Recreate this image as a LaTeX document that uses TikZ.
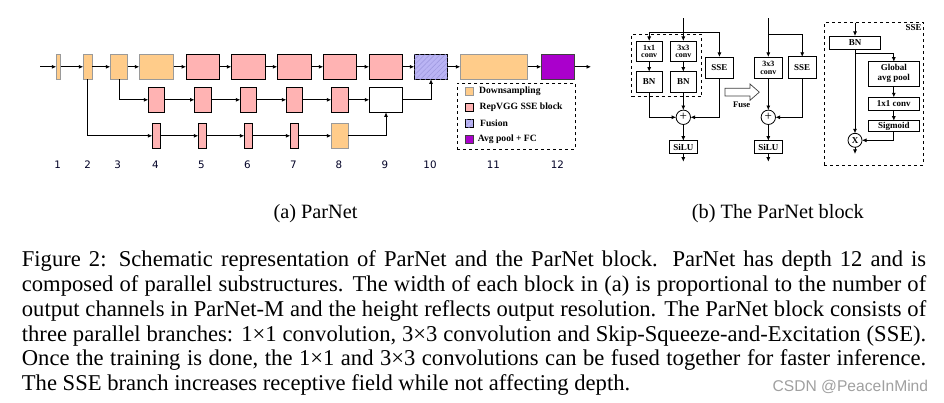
\documentclass[tikz,border=0pt]{standalone}
\usepackage{fontspec}
\setmainfont{Liberation Serif}
\newfontfamily\numfont{DejaVu Sans}
\newfontfamily\wmfont{Liberation Sans}
\usetikzlibrary{arrows.meta,patterns.meta}
\definecolor{dsfill}{HTML}{FFCC8A}
\definecolor{dsdraw}{HTML}{9A9A9A}
\definecolor{rpfill}{HTML}{FFB3B3}
\definecolor{fufill}{HTML}{BAB4F4}
\definecolor{fuhatch}{HTML}{9A94DC}
\definecolor{apfill}{HTML}{AA00CC}
\definecolor{apdraw}{HTML}{404040}
\definecolor{wmgray}{HTML}{A0A0A0}
\begin{document}
\begin{tikzpicture}[x=1pt,y=-1pt,
  blk/.style={inner sep=0pt, outer sep=0pt, line width=0.9pt, minimum height=25pt},
  ds/.style={blk, draw=dsdraw, fill=dsfill},
  rp/.style={blk, draw=black, fill=rpfill},
  hatchfu/.style={postaction={pattern={Lines[angle=45,distance=3.6pt,line width=0.45pt]}, pattern color=fuhatch}},
  fu/.style={blk, draw=black, fill=fufill, hatchfu},
  ap/.style={blk, draw=apdraw, fill=apfill},
  wt/.style={blk, draw=black, fill=white},
  arr/.style={line width=0.8pt, -{Latex[length=4.5pt,width=4pt]}},
  lab/.style={font=\numfont\fontsize{10.3}{11}\selectfont, inner sep=0pt, text=black!85!blue},
  legsq/.style={inner sep=0pt, outer sep=0pt, line width=0.6pt, minimum width=7.3pt, minimum height=8pt},
  legtx/.style={anchor=west, inner sep=0pt, font=\fontsize{9.6}{10}\selectfont\bfseries},
  rb/.style={draw, line width=0.8pt, inner sep=0pt, outer sep=0pt, fill=white, align=center, font=\fontsize{9}{9}\selectfont\bfseries},
  cb/.style={rb, font=\fontsize{8}{7.6}\selectfont\bfseries},
  opc/.style={circle, draw, line width=0.8pt, inner sep=0pt, outer sep=0pt, minimum size=14.4pt, fill=white},
  grp/.style={draw, dashed, line width=0.8pt, inner sep=0pt, outer sep=0pt},
  capl/.style={anchor=base west, inner sep=0pt, font=\fontsize{22.6}{27}\selectfont},
  subc/.style={anchor=base west, inner sep=0pt, font=\fontsize{20.3}{24}\selectfont}
]
\fill[white] (0,0) rectangle (944,403);
\useasboundingbox (0,0) rectangle (944,403);

% ---------------- (a) ParNet ----------------
% main row
\node[ds, minimum width=4.4pt]  (B1)  at (58.5,66.8) {};
\node[ds, minimum width=9pt]    (B2)  at (87.8,66.8) {};
\node[ds, minimum width=17.4pt] (B3)  at (119,66.8) {};
\node[ds, minimum width=34.4pt] (B4)  at (156.5,66.8) {};
\node[rp, minimum width=33.4pt] (B5)  at (202.8,66.8) {};
\node[rp, minimum width=34pt]   (B6)  at (248.3,66.8) {};
\node[rp, minimum width=34pt]   (B7)  at (294.3,66.8) {};
\node[rp, minimum width=33.4pt] (B8)  at (340,66.8) {};
\node[rp, minimum width=33.4pt] (B9)  at (385.8,66.8) {};
\node[fu, minimum width=33.4pt] (B10) at (431,66.8) {};
\node[ds, minimum width=67.4pt] (B11) at (494,66.8) {};
\node[ap, minimum width=33.4pt] (B12) at (558,66.8) {};
% middle row
\node[rp, minimum width=16pt]   (M4) at (156.3,99.8) {};
\node[rp, minimum width=17pt]   (M5) at (203,99.8) {};
\node[rp, minimum width=16pt]   (M6) at (248.3,99.8) {};
\node[rp, minimum width=16pt]   (M7) at (294.3,99.8) {};
\node[rp, minimum width=17pt]   (M8) at (339.8,99.8) {};
\node[wt, minimum width=33.4pt] (M9) at (386,99.8) {};
% bottom row
\node[rp, minimum width=8pt]  (L4) at (156.3,135.8) {};
\node[rp, minimum width=8pt]  (L5) at (202.3,135.8) {};
\node[rp, minimum width=8pt]  (L6) at (248.3,135.8) {};
\node[rp, minimum width=8pt]  (L7) at (294.3,135.8) {};
\node[ds, minimum width=17pt] (L8) at (339.8,135.8) {};

\coordinate (ain) at (40,66.8);
\coordinate (aout) at (591,66.8);
\draw[arr] (ain) -- (B1);
\draw[arr] (B1) -- (B2);
\draw[arr] (B2) -- (B3);
\draw[arr] (B3) -- (B4);
\draw[arr] (B4) -- (B5);
\draw[arr] (B5) -- (B6);
\draw[arr] (B6) -- (B7);
\draw[arr] (B7) -- (B8);
\draw[arr] (B8) -- (B9);
\draw[arr] (B9) -- (B10);
\draw[arr] (B10) -- (B11);
\draw[arr] (B11) -- (B12);
\draw[arr] (B12) -- (aout);
\draw[arr] (B3.south) |- (M4.west);
\draw[arr] (M4) -- (M5);
\draw[arr] (M5) -- (M6);
\draw[arr] (M6) -- (M7);
\draw[arr] (M7) -- (M8);
\draw[arr] (M8) -- (M9);
\draw[arr] (M9.east) -| (B10.south);
\draw[arr] (B2.south) |- (L4.west);
\draw[arr] (L4) -- (L5);
\draw[arr] (L5) -- (L6);
\draw[arr] (L6) -- (L7);
\draw[arr] (L7) -- (L8);
\draw[arr] (L8.east) -| (M9.south);

% depth labels
\node[lab] (n1)  at (57.7,165) {1};
\node[lab] (n2)  at (87.7,165) {2};
\node[lab] (n3)  at (117.7,165) {3};
\node[lab] (n4)  at (155.3,165) {4};
\node[lab] (n5)  at (201.3,165) {5};
\node[lab] (n6)  at (247.3,165) {6};
\node[lab] (n7)  at (293.3,165) {7};
\node[lab] (n8)  at (339,165) {8};
\node[lab] (n9)  at (385,165) {9};
\node[lab] (n10) at (430,165) {10};
\node[lab] (n11) at (493.3,165) {11};
\node[lab] (n12) at (557.3,165) {12};

% legend
\node[grp, minimum width=118pt, minimum height=66pt] (leg) at (516.3,116.3) {};
\node[legsq, draw=dsdraw, fill=dsfill] (q1) at (469.4,91.7) {};
\node[legsq, draw=black, fill=rpfill] (q2) at (469.4,107.7) {};
\node[legsq, draw=black, fill=fufill, hatchfu] (q3) at (469.4,123.7) {};
\node[legsq, draw=apdraw, fill=apfill] (q4) at (469.4,139.7) {};
\node[legtx] (t1) at (479,91.2) {Downsampling};
\node[legtx] (t2) at (479.5,107.2) {RepVGG SSE block};
\node[legtx] (t3) at (480,123.2) {Fusion};
\node[legtx] (t4) at (477.7,139.2) {Avg pool + FC};

% ---------------- (b) ParNet block ----------------
\node[grp, minimum width=70pt, minimum height=62.4pt] (g1) at (666.7,65.5) {};
\node[cb, minimum width=26.3pt, minimum height=20.7pt] (c1) at (649.2,51.35) {1x1\\conv};
\node[cb, minimum width=26.7pt, minimum height=20.7pt] (c3) at (683.3,51.35) {3x3\\conv};
\node[rb, minimum width=26.3pt, minimum height=20.6pt] (bn1) at (649.2,82) {BN};
\node[rb, minimum width=26.7pt, minimum height=20.6pt] (bn2) at (683.3,82) {BN};
\node[rb, minimum width=27.6pt, minimum height=21.3pt] (sse1) at (719.4,67.65) {SSE};
\node[opc] (p1) at (683.3,117.3) {\fontsize{13}{13}\selectfont +};
\node[rb, minimum width=27.3pt, minimum height=12.6pt] (silu1) at (683.3,147) {SiLU};
\coordinate (top1) at (683.3,18.3);
\coordinate (sp1) at (683.3,32.3);
\coordinate (o1) at (683.3,161.7);
\draw[arr] (top1) -- (c3);
\draw[arr] (sp1) -| (c1);
\draw[arr] (sp1) -| (sse1);
\draw[arr] (c1) -- (bn1);
\draw[arr] (c3) -- (bn2);
\draw[arr] (bn1.south) |- (p1.west);
\draw[arr] (bn2) -- (p1);
\draw[arr] (sse1.south) |- (p1.east);
\draw[arr] (p1) -- (silu1);
\draw[arr] (silu1) -- (o1);

% fuse arrow
\draw[line width=0.7pt, draw=black!75, fill=white] (725,88.3) -- (750,88.3) -- (750,84) -- (759.3,92.15) -- (750,100.3) -- (750,96) -- (725,96) -- cycle;
\node[inner sep=0pt, font=\fontsize{8.6}{9}\selectfont\bfseries] (fuse) at (741.7,105) {Fuse};

% deployed block
\node[cb, minimum width=27.6pt, minimum height=21.3pt] (c3b) at (768.3,67.65) {3x3\\conv};
\node[rb, minimum width=27.6pt, minimum height=21.3pt] (sse2) at (802.2,67.5) {SSE};
\node[opc] (p2) at (768.3,117.3) {\fontsize{13}{13}\selectfont +};
\node[rb, minimum width=27.6pt, minimum height=12.6pt] (silu2) at (768.3,147) {SiLU};
\coordinate (top2) at (768.3,18.3);
\coordinate (sp2) at (768.3,34);
\coordinate (o2) at (768.3,161.7);
\draw[arr] (top2) -- (c3b);
\draw[arr] (sp2) -| (sse2);
\draw[arr] (c3b) -- (p2);
\draw[arr] (sse2.south) |- (p2.east);
\draw[arr] (p2) -- (silu2);
\draw[arr] (silu2) -- (o2);

% SSE detail
\node[grp, minimum width=99pt, minimum height=142.3pt] (sbox) at (873.8,93.85) {};
\node[anchor=north east, inner sep=0pt, font=\fontsize{9}{9}\selectfont\bfseries] (sselab) at (921.8,24.6) {SSE};
\node[rb, minimum width=50.7pt, minimum height=13.3pt] (bn3) at (855,42.65) {BN};
\node[rb, minimum width=51pt, minimum height=24.3pt, font=\fontsize{9}{10}\selectfont\bfseries] (gap) at (893.8,73.85) {Global\\avg pool};
\node[rb, minimum width=51pt, minimum height=12.7pt] (c11) at (893.8,103.65) {1x1 conv};
\node[rb, minimum width=51pt, minimum height=11pt] (sig) at (893.8,126.2) {Sigmoid};
\node[opc, minimum size=14pt] (mul) at (855,140.3) {\fontsize{9}{9}\selectfont\bfseries X};
\coordinate (sin) at (855,22.7);
\coordinate (br) at (855,53.3);
\coordinate (mout) at (855,154);
\draw[arr] (sin) -- (bn3);
\draw[arr] (bn3) -- (mul);
\draw[arr] (br) -| (gap);
\draw[arr] (gap) -- (c11);
\draw[arr] (c11) -- (sig);
\draw[arr] (sig.south) |- (mul.east);
\draw[arr] (mul) -- (mout);

% ---------------- captions ----------------
\node[subc] (suba) at (273.3,219) {(a) ParNet};
\node[subc] (subb) at (691.7,219) {(b) The ParNet block};

\node[capl] (cap1) at (21.7,266.7) {\makebox[904.3pt][s]{Figure 2:  Schematic representation of ParNet and the ParNet block.  ParNet has depth 12 and is}};
\node[capl] (cap2) at (21.7,291.5) {\makebox[904.3pt][s]{composed of parallel substructures. The width of each block in (a) is proportional to the number of}};
\node[capl] (cap3) at (21.7,316.3) {\makebox[904.3pt][s]{output channels in ParNet-M and the height reflects output resolution. The ParNet block consists of}};
\node[capl] (cap4) at (21.7,341.1) {\makebox[904.3pt][s]{three parallel branches: 1×1 convolution, 3×3 convolution and Skip-Squeeze-and-Excitation (SSE).}};
\node[capl] (cap5) at (21.7,365.9) {\makebox[904.3pt][s]{Once the training is done, the 1×1 and 3×3 convolutions can be fused together for faster inference.}};
\node[capl] (cap6) at (21.7,390.7) {The SSE branch increases receptive field while not affecting depth.};

\node[anchor=base east, inner sep=0pt, text=wmgray, font=\wmfont\fontsize{15.6}{16}\selectfont] (wm) at (928.3,391.7) {CSDN @PeaceInMind};
\end{tikzpicture}
\end{document}
